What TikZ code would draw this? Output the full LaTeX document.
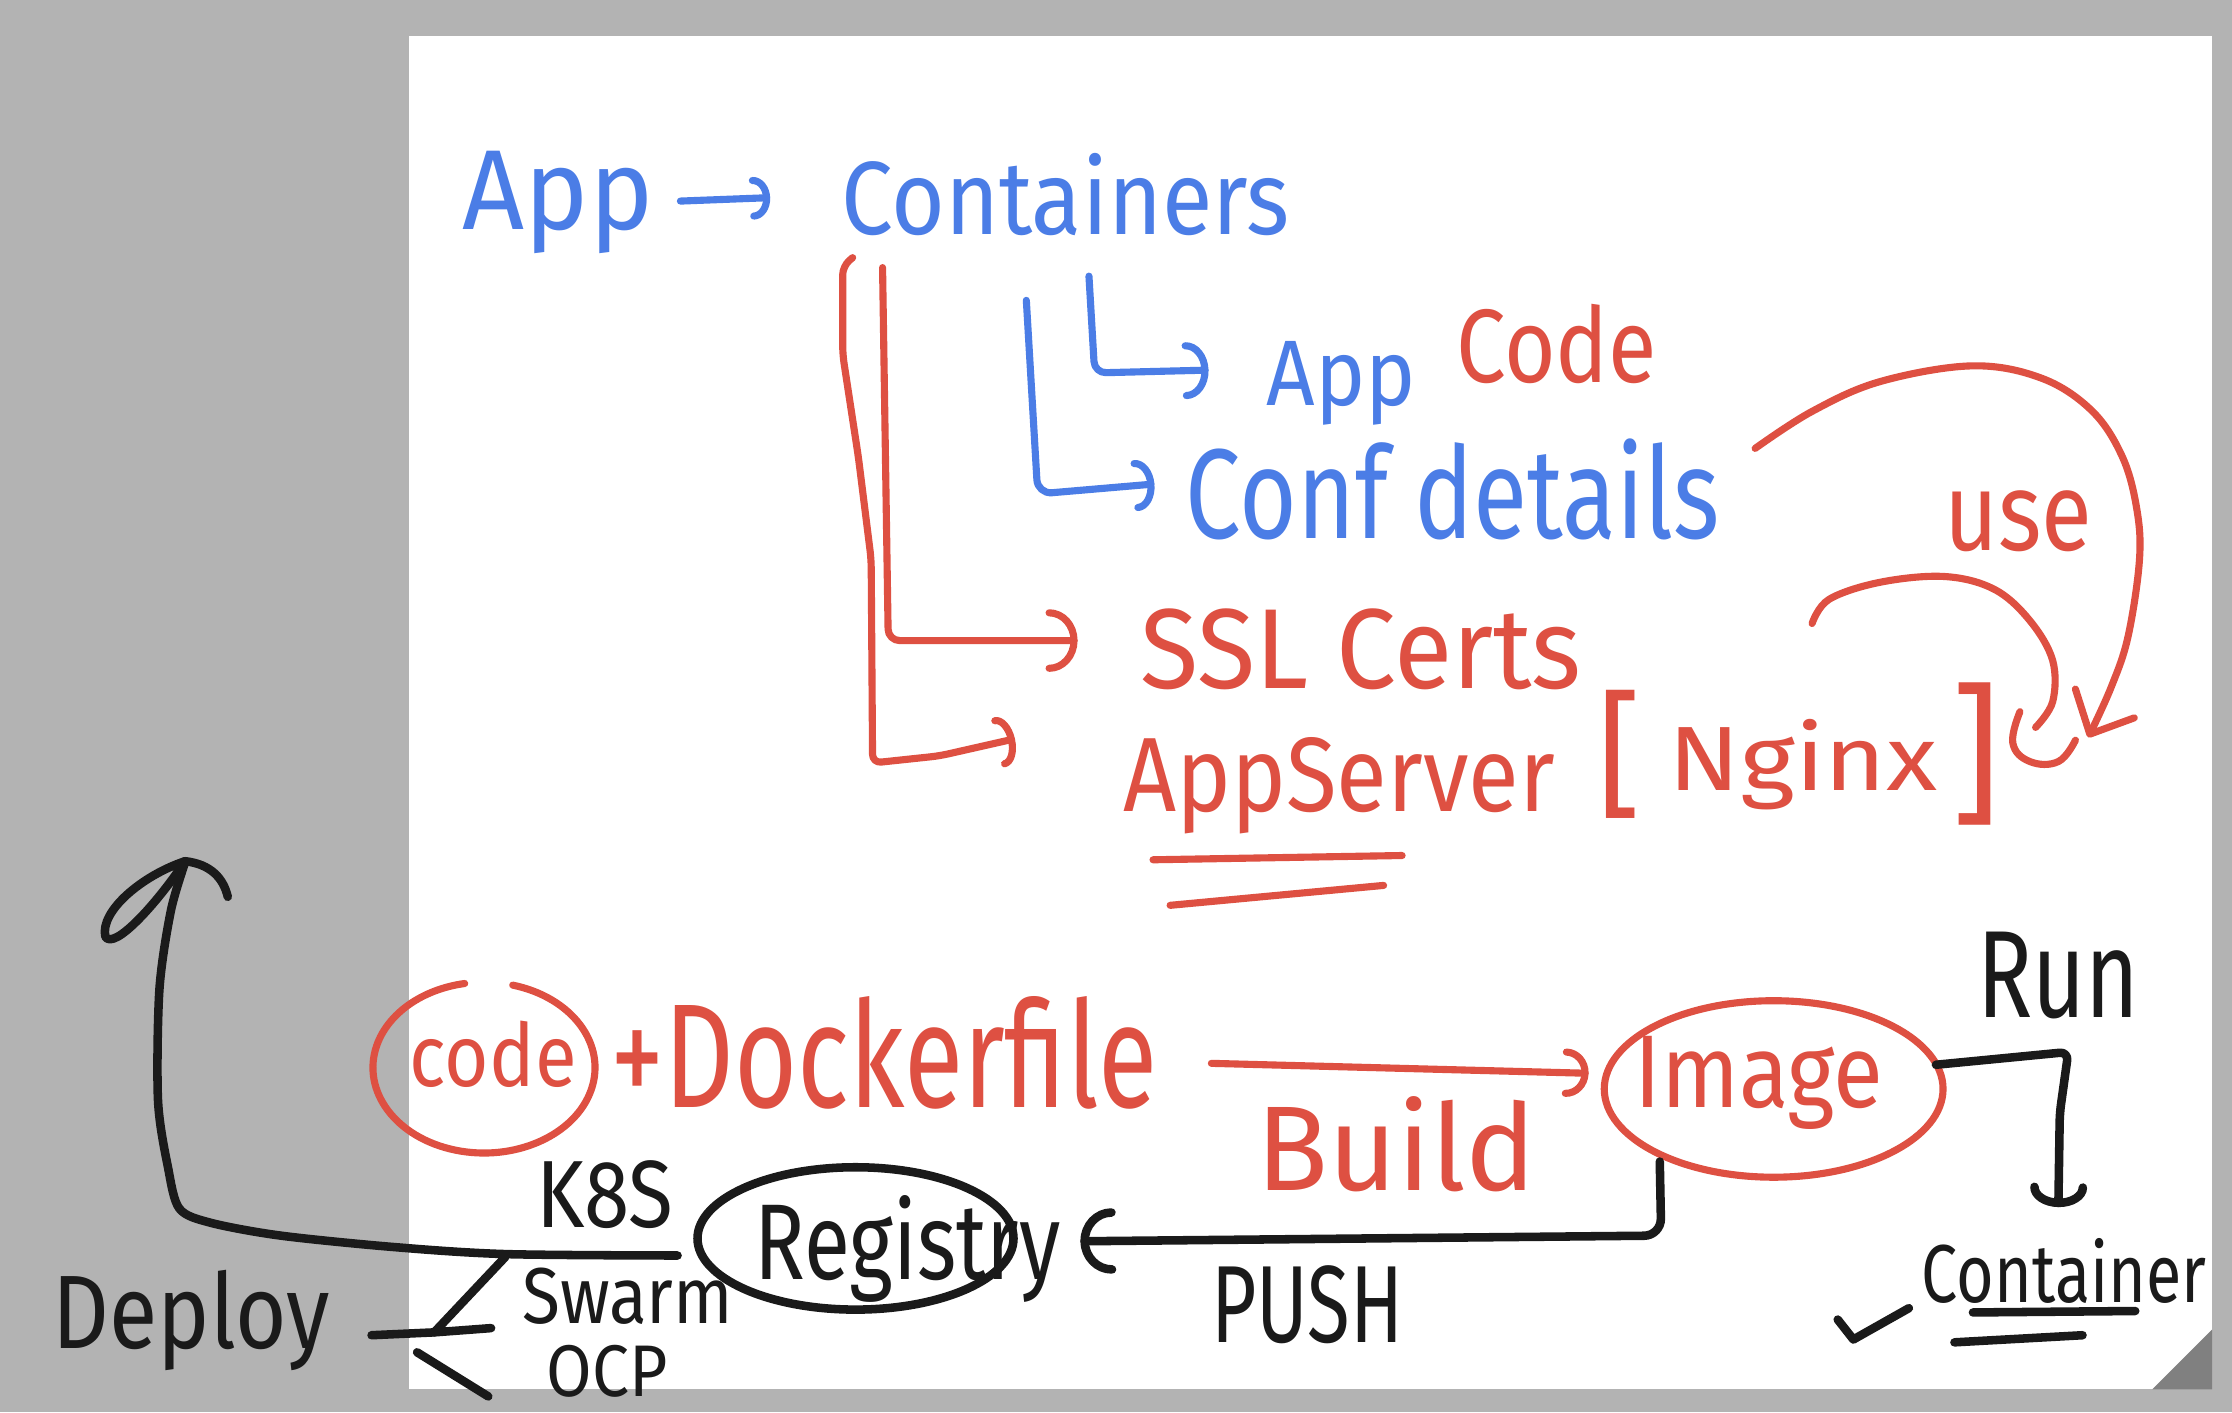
\documentclass[tikz,border=0pt]{standalone}
\usepackage{fontspec}
\setmainfont{Fira Sans}
\usepackage{graphicx}
\usetikzlibrary{arrows.meta,shapes.geometric}
\definecolor{hwblue}{HTML}{4B7DE6}
\definecolor{hwred}{HTML}{DE5042}
\definecolor{hwblack}{HTML}{1A1A1A}
\definecolor{bggray}{HTML}{B3B3B3}
\definecolor{curlgray}{HTML}{808080}
\newcommand\hwtext[3]{\resizebox{#1pt}{#2pt}{#3}}
\begin{document}
\begin{tikzpicture}[x=1pt,y=-1pt,
  txt/.style={inner sep=0pt,outer sep=0pt,anchor=base west},
  hwline/.style={line width=5pt,line cap=round,line join=round},
  bl/.style={hwline,draw=hwblue},
  rd/.style={hwline,draw=hwred},
  bk/.style={hwline,line width=6pt,draw=hwblack},
  arctip/.style 2 args={-{Arc Barb[length=#1pt,width=#2pt,round]}},
  barbtip/.style 2 args={-{Straight Barb[length=#1pt,width=#2pt,round]}}]
\useasboundingbox (0,0) rectangle (1568,992);
% page
\fill[bggray] (0,0) rectangle (1568,992);
\fill[white] (287,25) rectangle (1554,976);
\fill[curlgray] (1512,976) -- (1554,934) -- (1554,976) -- cycle;

% ---------- top part: texts ----------
\node[txt,text=hwblue] (appT) at (325,161) {\hwtext{134}{55}{App}};
\node[txt,text=hwblue] (containers) at (591,165) {\hwtext{315}{57}{Containers}};
\node[txt,text=hwblue] (appC) at (890,285) {\hwtext{105}{45}{App}};
\node[txt,text=hwred] (codeT) at (1023,269) {\hwtext{141}{55}{Code}};
\node[txt,text=hwblue] (conf) at (833,378) {\hwtext{375}{70}{Conf details}};
\node[txt,text=hwred] (ssl) at (801,484) {\hwtext{310}{56}{SSL Certs}};
\node[txt,text=hwred] (appserver) at (789,570) {\hwtext{303}{52}{AppServer}};
\node[inner sep=0pt,text=hwred] (lbr) at (1138,530) {\resizebox*{!}{90pt}{[}};
\node[txt,text=hwred] (nginx) at (1172,555) {\hwtext{189}{50}{Nginx}};
\node[inner sep=0pt,text=hwred] (rbr) at (1388,530) {\resizebox*{!}{100pt}{]}};
\node[txt,text=hwred] (use) at (1366,387) {\hwtext{104}{42}{use}};

% ---------- top part: connectors ----------
\draw[bl,arctip={12}{30},shorten <=19pt,shorten >=50pt] (appT.east) -- (containers.west);
\coordinate (l1s) at (765,194);
\coordinate (l1e) at (849,260);
\draw[bl,arctip={16}{40},rounded corners=8pt] (l1s) -- (769,262) -- (l1e);
\coordinate (l2s) at (721,211);
\coordinate (l2e) at (811,340);
\draw[bl,arctip={13}{36},rounded corners=10pt] (l2s) -- (729,347) -- (l2e);
\coordinate (ris) at (620,188);
\coordinate (rie) at (757,450);
\draw[rd,arctip={20}{44},rounded corners=8pt] (ris) -- (624,450) -- (rie);
\coordinate (ros) at (599,181);
\coordinate (roe) at (713,519);
\draw[rd,arctip={11}{36},rounded corners=6pt] (ros) -- (592,187) -- (592,249) -- (603,321) -- (612,393) -- (613,536) -- (660,531) -- (roe);
\coordinate (ul1a) at (810,604); \coordinate (ul1b) at (985,601);
\coordinate (ul2a) at (822,636); \coordinate (ul2b) at (972,622);
\draw[rd] (ul1a) -- (ul1b);
\draw[rd] (ul2a) -- (ul2b);
% "use" curves
\draw[rd,barbtip={24}{46}] plot[smooth,tension=0.6] coordinates {(1233,315) (1273,289) (1321,268) (1386,257) (1435,266) (1470,289) (1491,321) (1501,357) (1503,393) (1495,447) (1483,483) (1467,518)};
\draw[rd] plot[smooth,tension=0.6] coordinates {(1273,438) (1285,421) (1321,409) (1366,405) (1401,414) (1426,436) (1442,464) (1442,493) (1430,511)};
\draw[rd] plot[smooth,tension=0.7] coordinates {(1419,500) (1414,522) (1426,535) (1446,535) (1458,520)};

% ---------- bottom part ----------
\coordinate (codeC) at (340,750);
\draw[rd] (codeC) ++(285:78 and 60) arc[start angle=285,end angle=620,x radius=78,y radius=60];
\node[txt,text=hwred] (code) at (288,763) {\hwtext{117}{46}{code}};
\node[txt,text=hwred] (docker) at (429,778) {\hwtext{384}{78}{+Dockerfile}};
\node[txt,text=hwred] (build) at (883,836) {\hwtext{196}{66}{Build}};
\node[ellipse,draw=hwred,hwline,minimum width=238pt,minimum height=124pt,inner sep=0pt] (imgE) at (1246,765) {};
\node[txt,text=hwred] (image) at (1148,778) {\hwtext{175}{50}{Image}};
\node[txt,text=hwblack] (run) at (1389,715) {\hwtext{114}{60}{Run}};
\node[txt,text=hwblack] (container) at (1350,915) {\hwtext{200}{45}{Container}};
\node[txt,text=hwblack] (push) at (851,943) {\hwtext{135}{54}{PUSH}};
\node[ellipse,draw=hwblack,hwline,line width=6pt,minimum width=222pt,minimum height=100pt,inner sep=0pt] (regE) at (601,870) {};
\node[txt,text=hwblack] (registry) at (530,899) {\hwtext{215}{59}{Registry}};
\node[txt,text=hwblack] (k8s) at (377,862) {\hwtext{96}{47}{K8S}};
\node[txt,text=hwblack] (swarm) at (367,930) {\hwtext{148}{39}{Swarm}};
\node[txt,text=hwblack] (ocp) at (384,981) {\hwtext{85}{36}{OCP}};
\node[txt,text=hwblack] (deploy) at (37,947) {\hwtext{195}{55}{Deploy}};

% build arrow
\coordinate (bs) at (851,747);
\coordinate (be) at (1116,754);
\draw[rd,arctip={16}{34}] (bs) -- (be);
% run arrow
\coordinate (runs) at (1360,748);
\coordinate (rune) at (1446,848);
\draw[bk,arctip={14}{40},rounded corners=6pt] (runs) -- (1453,739) -- (1447,782) -- (rune);
% push arrow
\coordinate (pushs) at (1166,816);
\coordinate (pushe) at (759,872);
\draw[bk,arctip={22}{46},rounded corners=12pt] (pushs) -- (1167,868) -- (pushe);
% deploy arrow
\coordinate (deps) at (476,882);
\coordinate (dtip) at (130,605);
\draw[bk] plot[smooth,tension=0.5] coordinates {(476,882) (355,881) (276,876) (197,868) (148,859) (126,849) (118,820) (111,773) (112,695) (120,640) (130,606)};
\draw[bk] (dtip) .. controls (100,615) and (70,640) .. (74,658) .. controls (80,668) and (110,635) .. (dtip);
\draw[bk] (dtip) .. controls (148,607) and (157,617) .. (160,630);
% deploy fork
\coordinate (hub) at (305,936);
\coordinate (forkk) at (355,883);
\coordinate (forks) at (345,933);
\draw[bk] (261,938) -- (hub);
\draw[bk] (forkk) -- (hub) -- (forks);
\draw[bk] (293,950) -- (343,981);
% check mark and underlines
\draw[bk] (1291,927) -- (1302,941) -- (1341,919);
\draw[bk] (1386,922) -- (1500,921);
\draw[bk] (1373,943) -- (1463,938);
\end{tikzpicture}
\end{document}
